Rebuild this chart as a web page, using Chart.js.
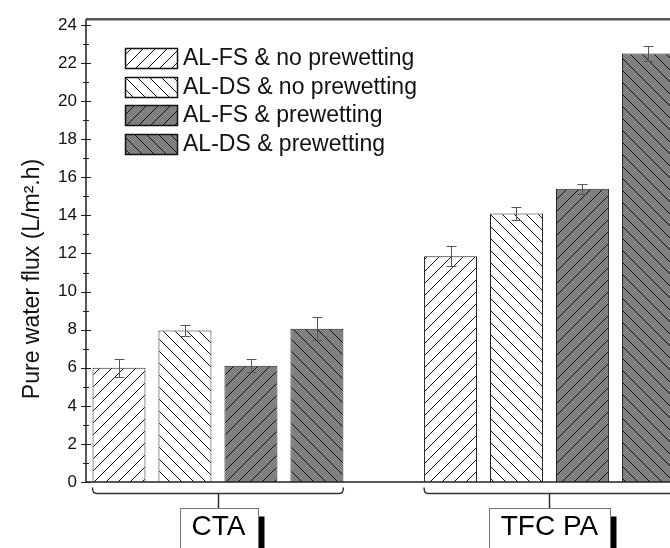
<!DOCTYPE html>
<html>
<head>
<meta charset="utf-8">
<script src="https://cdn.jsdelivr.net/npm/chart.js@4/dist/chart.umd.min.js"></script>
<style>
  html, body { margin: 0; padding: 0; background: #fff; overflow: hidden; }
  #wrap { width: 670px; height: 548px; }
</style>
</head>
<body>
<div id="wrap"><canvas id="flux"></canvas></div>
<script>
// membranes on the x axis
const membranes = ['CTA', 'TFC PA'];
const seriesNames = ['AL-FS & no prewetting', 'AL-DS & no prewetting', 'AL-FS & prewetting', 'AL-DS & prewetting'];

// pure water flux, L/m2.h
const fsNoPrewet = [6.0, 11.85];
const dsNoPrewet = [7.95, 14.1];
const fsPrewet = [6.1, 15.4];
const dsPrewet = [8.05, 22.5];

// error bar half-heights
const fsNoPrewetErr = [0.48, 0.53];
const dsNoPrewetErr = [0.3, 0.35];
const fsPrewetErr = [0.34, 0.27];
const dsPrewetErr = [0.6, 0.4];

const yTicks = [0, 2, 4, 6, 8, 10, 12, 14, 16, 18, 20, 22, 24];
const yTitle = 'Pure water flux (L/m\u00b2.h)';

const FONT = "'Liberation Sans', Arial, sans-serif";
Chart.defaults.font.family = FONT;

function hatch(bg, dir) {
    const s = 12;
    const c = document.createElement('canvas');
    c.width = s;
    c.height = s;
    const g = c.getContext('2d');
    g.fillStyle = bg;
    g.fillRect(0, 0, s, s);
    g.strokeStyle = '#111';
    g.lineWidth = 1;
    g.beginPath();
    if (dir > 0) {
        g.moveTo(-1, s + 1); g.lineTo(s + 1, -1);
        g.moveTo(-1, 1); g.lineTo(1, -1);
        g.moveTo(s - 1, s + 1); g.lineTo(s + 1, s - 1);
    } else {
        g.moveTo(-1, -1); g.lineTo(s + 1, s + 1);
        g.moveTo(s - 1, -1); g.lineTo(s + 1, 1);
        g.moveTo(-1, s - 1); g.lineTo(1, s + 1);
    }
    g.stroke();
    return g.createPattern(c, 'repeat');
}

const values = [fsNoPrewet, dsNoPrewet, fsPrewet, dsPrewet];
const errors = [fsNoPrewetErr, dsNoPrewetErr, fsPrewetErr, dsPrewetErr];
const fills = [hatch('#fff', 1), hatch('#fff', -1), hatch('#808080', 1), hatch('#808080', -1)];

const decor = {
    id: 'decor',
    afterDatasetsDraw(chart) {
        const { ctx, chartArea: a, scales: { x, y } } = chart;
        ctx.save();

        // error bars
        ctx.strokeStyle = '#555';
        ctx.lineWidth = 1;
        chart.data.datasets.forEach((ds, k) => {
            chart.getDatasetMeta(k).data.forEach((bar, i) => {
                const v = values[k][i];
                const e = errors[k][i];
                const bx = Math.round(bar.x) + 0.5;
                const top = Math.round(y.getPixelForValue(v + e)) + 0.5;
                const bot = Math.round(y.getPixelForValue(v - e)) + 0.5;
                ctx.beginPath();
                ctx.moveTo(bx, top); ctx.lineTo(bx, bot);
                ctx.moveTo(bx - 5, top); ctx.lineTo(bx + 5, top);
                ctx.moveTo(bx - 5, bot); ctx.lineTo(bx + 5, bot);
                ctx.stroke();
            });
        });

        // frame: top, left axis, baseline
        ctx.strokeStyle = '#555';
        ctx.lineWidth = 2.5;
        ctx.beginPath();
        ctx.moveTo(a.left, a.top); ctx.lineTo(a.right, a.top);
        ctx.stroke();
        ctx.strokeStyle = '#222';
        ctx.lineWidth = 1.5;
        ctx.beginPath();
        ctx.moveTo(a.left, a.top); ctx.lineTo(a.left, a.bottom);
        ctx.moveTo(a.left, a.bottom); ctx.lineTo(a.right, a.bottom);
        ctx.stroke();

        // major and minor ticks, crossing the axis
        ctx.lineWidth = 1;
        for (let v = 0; v <= 24; v++) {
            const py = Math.round(y.getPixelForValue(v)) + 0.5;
            const len = v % 2 ? 3 : 5;
            ctx.beginPath();
            ctx.moveTo(a.left - len, py); ctx.lineTo(a.left + len, py);
            ctx.stroke();
        }

        // group brackets and label boxes
        const yb = a.bottom + 11.5;
        membranes.forEach((name, i) => {
            let left = Infinity, right = -Infinity;
            chart.data.datasets.forEach((ds, k) => {
                const bar = chart.getDatasetMeta(k).data[i];
                left = Math.min(left, bar.x - bar.width / 2);
                right = Math.max(right, bar.x + bar.width / 2);
            });
            const cx = Math.round(x.getPixelForValue(i)) + 0.5;
            ctx.strokeStyle = '#333';
            ctx.lineWidth = 1.5;
            ctx.beginPath();
            ctx.moveTo(left, yb - 6);
            ctx.quadraticCurveTo(left, yb, left + 4, yb);
            ctx.lineTo(right - 4, yb);
            ctx.quadraticCurveTo(right, yb, right, yb - 6);
            ctx.moveTo(cx, yb);
            ctx.lineTo(cx, yb + 15);
            ctx.stroke();

            ctx.font = '28px ' + FONT;
            const tw = ctx.measureText(name).width;
            const w = Math.round(tw + 24);
            const bx = Math.round(cx - w / 2) + 0.5;
            const by = a.bottom + 26.5;
            const bh = 46;
            ctx.fillStyle = '#000';
            ctx.fillRect(bx + w, by + 8, 6, bh);
            ctx.fillStyle = '#fff';
            ctx.fillRect(bx, by, w, bh);
            ctx.strokeStyle = '#777';
            ctx.lineWidth = 1;
            ctx.strokeRect(bx, by, w, bh);
            ctx.fillStyle = '#000';
            ctx.textAlign = 'center';
            ctx.textBaseline = 'middle';
            ctx.fillText(name, cx, by + 19);
        });

        // legend
        ctx.font = '23px ' + FONT;
        ctx.textAlign = 'left';
        ctx.textBaseline = 'middle';
        chart.data.datasets.forEach((ds, k) => {
            const top = Math.round(48 + k * 28.7) + 0.5;
            ctx.fillStyle = ds.backgroundColor;
            ctx.fillRect(125.5, top, 52, 20);
            ctx.strokeStyle = '#111';
            ctx.lineWidth = 1.5;
            ctx.strokeRect(125.5, top, 52, 20);
            ctx.fillStyle = '#111';
            ctx.fillText(ds.label, 183, top + 10);
        });

        // y axis title
        ctx.translate(33, 279);
        ctx.rotate(-Math.PI / 2);
        ctx.textAlign = 'center';
        ctx.font = '23px ' + FONT;
        ctx.fillText(yTitle, 0, 0);

        ctx.restore();
    }
};

const config = {
    type: 'bar',
    data: {
        datasets: seriesNames.map((name, k) => ({
            label: name,
            data: values[k].map((v, i) => ({ x: i, y: v })),
            backgroundColor: fills[k],
            borderColor: '#222',
            borderWidth: 1,
            categoryPercentage: 0.796,
            barPercentage: 0.803
        }))
    },
    options: {
        responsive: true,
        maintainAspectRatio: false,
        animation: false,
        layout: { padding: { top: 15, right: 0, bottom: 66, left: 0 } },
        plugins: {
            legend: { display: false },
            tooltip: { enabled: false }
        },
        scales: {
            x: {
                type: 'linear',
                offset: false,
                min: -0.398,
                max: 1.3635,
                display: false,
                afterBuildTicks: (s) => { s.ticks = membranes.map((m, i) => ({ value: i })); }
            },
            y: {
                min: 0,
                max: 24.3,
                afterFit: (s) => { s.width = 86; },
                afterBuildTicks: (s) => { s.ticks = yTicks.map(v => ({ value: v })); },
                grid: { display: false, drawTicks: false },
                border: { display: false },
                ticks: { padding: 9, color: '#111', font: { size: 17 } }
            }
        }
    },
    plugins: [decor]
};

const chart = new Chart(document.getElementById('flux').getContext('2d'), config);
</script>
</body>
</html>
